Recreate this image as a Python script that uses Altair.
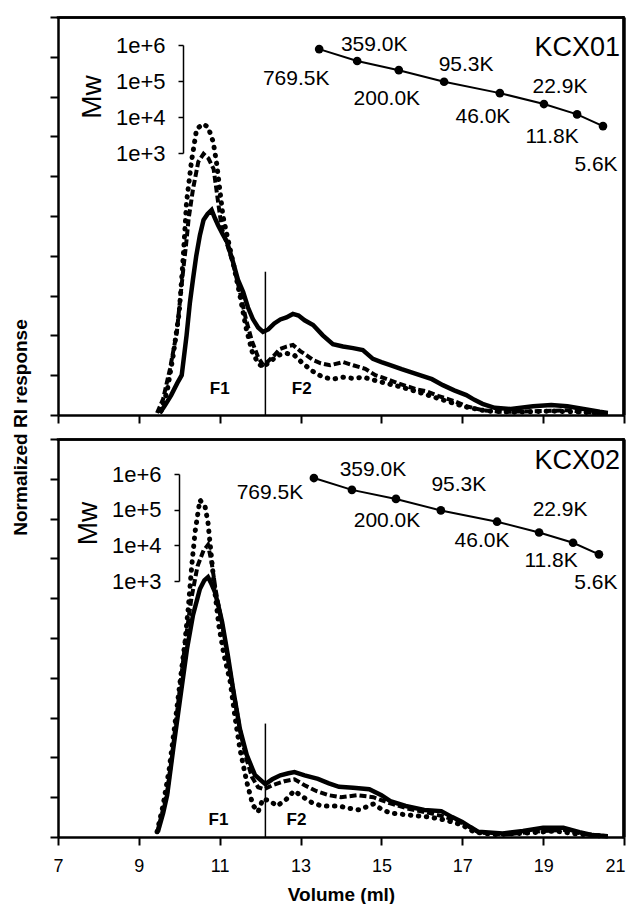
import altair as alt
import pandas as pd

FONT = "Liberation Sans"

# ---------------- data ----------------
X_TICKS = [7, 9, 11, 13, 15, 17, 19, 21]
Y_TICKS = [0, 1, 2, 3, 4, 5, 6, 7, 8, 9, 10]
MW_TICKS = [1e3, 1e4, 1e5, 1e6]

CAL_MW = [769500, 359000, 200000, 95300, 46000, 22900, 11800, 5600]
CAL_LABELS = ["769.5K", "359.0K", "200.0K", "95.3K", "46.0K", "22.9K", "11.8K", "5.6K"]
CAL_VOL_KCX01 = [13.46, 14.40, 15.43, 16.55, 17.93, 19.02, 19.84, 20.48]
CAL_VOL_KCX02 = [13.33, 14.27, 15.36, 16.47, 17.86, 18.90, 19.74, 20.38]

# KCX01 curves (volume, normalized RI)
K1_SOLID_X = [9.52, 9.65, 9.8, 9.95, 10.06, 10.18, 10.26, 10.34, 10.42, 10.51, 10.6, 10.7, 10.8, 10.88,
              10.96, 11.07, 11.18, 11.33, 11.45, 11.58, 11.7, 11.82, 11.95, 12.07, 12.2, 12.35, 12.5,
              12.65, 12.81, 12.95, 13.1, 13.31, 13.55, 13.8, 14.05, 14.3, 14.54, 14.79, 15.0, 15.2,
              15.5, 15.95, 16.25, 16.52, 16.8, 17.1, 17.3, 17.5, 17.8, 18.2, 18.75, 19.2, 19.6, 20.0,
              20.4, 20.6]
K1_SOLID_Y = [0.05, 0.25, 0.5, 0.8, 1.0, 2.0, 2.8, 3.42, 4.0, 4.52, 4.9, 5.05, 5.15, 4.95,
              4.77, 4.55, 4.35, 3.84, 3.4, 3.09, 2.7, 2.41, 2.2, 2.09, 2.15, 2.3, 2.4,
              2.45, 2.54, 2.5, 2.38, 2.26, 2.0, 1.78, 1.72, 1.68, 1.63, 1.41, 1.33, 1.26,
              1.15, 1.0, 0.9, 0.75, 0.62, 0.5, 0.38, 0.28, 0.18, 0.15, 0.22, 0.25, 0.22, 0.15,
              0.08, 0.05]
K1_DASH_X = [9.45, 9.6, 9.77, 9.94, 10.02, 10.1, 10.17, 10.23, 10.34, 10.47, 10.6, 10.72, 10.85, 10.96,
             11.05, 11.18, 11.33, 11.5, 11.65, 11.8, 11.95, 12.07, 12.2, 12.35, 12.49, 12.65, 12.81,
             13.0, 13.15, 13.31, 13.5, 13.73, 14.05, 14.3, 14.6, 14.85, 15.0, 15.4, 15.85, 16.1, 16.4,
             16.8, 17.1, 17.5, 18.0, 19.0, 19.6, 20.2, 20.6]
K1_DASH_Y = [0.05, 0.4, 1.16, 2.09, 2.9, 3.67, 4.3, 4.92, 5.68, 6.36, 6.56, 6.45, 6.18, 5.35,
             4.7, 4.3, 3.8, 3.1, 2.4, 1.85, 1.45, 1.26, 1.35, 1.5, 1.66, 1.72, 1.76,
             1.6, 1.5, 1.38, 1.3, 1.25, 1.33, 1.25, 1.16, 1.0, 0.95, 0.8, 0.65, 0.6, 0.48,
             0.35, 0.22, 0.12, 0.08, 0.1, 0.12, 0.06, 0.03]
K1_DOT_X = [9.55, 9.7, 9.85, 10.0, 10.1, 10.18, 10.3, 10.43, 10.59, 10.71, 10.84, 10.93, 11.0, 11.08,
            11.18, 11.33, 11.5, 11.65, 11.8, 11.95, 12.07, 12.25, 12.45, 12.65, 12.85, 13.05, 13.3,
            13.55, 13.8, 14.05, 14.3, 14.55, 14.8, 15.1, 15.5, 15.9, 16.3, 16.7, 17.1, 17.6, 18.3,
            19.2, 19.8, 20.5]
K1_DOT_Y = [0.1, 0.6, 1.5, 2.6, 4.0, 5.35, 6.36, 7.19, 7.31, 7.24, 6.86, 6.28, 5.68, 5.0,
            4.52, 3.84, 3.0, 2.2, 1.6, 1.3, 1.2, 1.35, 1.5, 1.55, 1.5, 1.3, 1.1,
            0.95, 0.9, 0.95, 0.92, 0.95, 0.88, 0.8, 0.7, 0.58, 0.45, 0.32, 0.2, 0.1, 0.07,
            0.1, 0.08, 0.04]

# KCX02 curves
K2_SOLID_X = [9.47, 9.6, 9.7, 9.85, 10.02, 10.19, 10.34, 10.51, 10.62, 10.71, 10.8, 10.88, 10.97, 11.06,
              11.2, 11.33, 11.5, 11.67, 11.87, 12.07, 12.13, 12.3, 12.5, 12.7, 12.85, 13.1, 13.43, 13.7,
              13.95, 14.3, 14.7, 15.0, 15.22, 15.6, 16.06, 16.48, 16.75, 17.0, 17.2, 17.4, 18.0, 18.5,
              19.0, 19.5, 19.9, 20.2, 20.6]
K2_SOLID_Y = [0.13, 0.6, 1.05, 2.21, 3.47, 4.72, 5.58, 6.23, 6.45, 6.53, 6.35, 6.16, 5.8, 5.4,
              4.57, 3.72, 2.71, 2.06, 1.56, 1.38, 1.33, 1.45, 1.55, 1.6, 1.63, 1.55, 1.46, 1.35,
              1.26, 1.24, 1.2, 1.05, 0.9, 0.78, 0.68, 0.65, 0.5, 0.38, 0.25, 0.13, 0.09, 0.15,
              0.23, 0.23, 0.12, 0.05, 0.02]
K2_DASH_X = [9.45, 9.7, 9.85, 10.0, 10.15, 10.3, 10.45, 10.6, 10.71, 10.8, 10.9, 11.05, 11.2, 11.35,
             11.5, 11.65, 11.8, 11.95, 12.1, 12.3, 12.6, 12.85, 13.1, 13.4, 13.7, 14.0, 14.4, 14.8,
             15.2, 15.7, 16.2, 16.6, 17.0, 17.4, 18.0, 19.0, 19.5, 20.0, 20.6]
K2_DASH_Y = [0.1, 1.1, 2.3, 3.6, 4.9, 6.0, 6.8, 7.2, 7.34, 6.9, 6.2, 5.4, 4.5, 3.6,
             2.7, 2.0, 1.5, 1.25, 1.2, 1.3, 1.4, 1.45, 1.3, 1.15, 1.05, 1.0, 1.05, 1.0,
             0.85, 0.7, 0.6, 0.5, 0.35, 0.12, 0.06, 0.15, 0.18, 0.08, 0.02]
K2_DOT_X = [9.45, 9.6, 9.75, 9.9, 10.02, 10.14, 10.22, 10.31, 10.39, 10.51, 10.64, 10.71, 10.8, 10.88,
            10.98, 11.1, 11.26, 11.38, 11.5, 11.67, 11.82, 11.95, 12.07, 12.25, 12.42, 12.65, 12.84,
            13.1, 13.3, 13.53, 13.95, 14.2, 14.45, 14.8, 15.0, 15.22, 15.7, 16.2, 16.6, 17.0, 17.3,
            17.8, 18.6, 19.3, 19.8, 20.5]
K2_DOT_Y = [0.13, 0.8, 1.7, 2.9, 3.9, 4.9, 5.73, 6.83, 7.66, 8.47, 8.29, 7.9, 6.98, 6.16,
            5.3, 4.6, 3.9, 3.0, 2.21, 1.38, 0.8, 0.63, 0.96, 0.9, 0.78, 0.95, 1.16,
            0.98, 0.85, 0.78, 0.78, 0.72, 0.68, 0.83, 0.7, 0.6, 0.55, 0.5, 0.42, 0.3, 0.12,
            0.06, 0.1, 0.15, 0.08, 0.02]

FRACTIONS = ["F1", "F2"]
FRAC_X_KCX01 = [11.0, 13.03]
FRAC_X_KCX02 = [10.97, 12.9]
FRAC_Y_KCX01 = [0.65, 0.65]
FRAC_Y_KCX02 = [0.43, 0.43]
DIVIDER_X = [12.13, 12.13]
DIVIDER_TOP = [3.6, 2.85]
PANEL_NAMES = ["KCX01", "KCX02"]
NAME_X = [20.9, 20.9]
NAME_Y = [9.22, 9.45]
# top and right edges of the axis box (data units)
FRAME_X0 = [7, 20.985]
FRAME_X1 = [20.985, 20.985]
FRAME_Y0 = [9.985, 0]
FRAME_Y1 = [9.985, 9.985]
FRAME_X = [7, 21]
FRAME_Y = [0, 10]

# ---------------- styles ----------------
LABEL_OFFSETS_KCX01 = [(-23, 30), (17, -16), (-12, 29), (22, -17), (-17, 24), (16, -17), (-25, 23), (-7, 39)]
LABEL_OFFSETS_KCX02 = [(-44, 15), (21, -20), (-9, 22), (18, -25), (-15, 19), (21, -22), (-22, 18), (-3, 29)]

W, H = 566, 398
XSCALE = alt.Scale(domain=[7, 21], nice=False, zero=False)
YSCALE = alt.Scale(domain=[0, 10], nice=False, zero=False)


def curve_df(xs, ys):
    return pd.DataFrame({"vol": xs, "ri": ys})


def panel(idx, solid, dash, dot, cal_vol, offsets, frac_x, frac_y, mw_range, mw_offset, mw_title_xy, bottom):
    if bottom:
        x_axis = alt.Axis(orient="bottom", values=X_TICKS, labels=True, title="Volume (ml)", labelFontSize=18,
                          labelPadding=12, titleFontSize=19, titleFontWeight="bold", titlePadding=10,
                          format="d", labelFlush=False,
                          labelAlign={"condition": {"test": "datum.value == 21", "value": "right"},
                                      "value": "center"},
                          labelOffset={"condition": {"test": "datum.value == 21", "value": 1},
                                       "value": 0})
    else:
        x_axis = alt.Axis(orient="bottom", values=X_TICKS, labels=False, title=None)
    if idx == 0:
        y_axis = alt.Axis(values=Y_TICKS, labels=False, title="Normalized RI response",
                          titleX=-38, titleY=410, titleFontSize=19, titleFontWeight="bold",
                          titleAlign="center", titleBaseline="middle", titleAngle=-90)
    else:
        y_axis = alt.Axis(values=Y_TICKS, labels=False, title=None)

    X = alt.X("vol:Q", scale=XSCALE, axis=x_axis)
    XN = alt.X("vol:Q", scale=XSCALE, axis=None)
    Y = alt.Y("ri:Q", scale=YSCALE, axis=y_axis)

    base_solid = alt.Chart(curve_df(*solid)).mark_line(color="black", strokeWidth=4.5).encode(x=X, y=Y)
    l_dash = alt.Chart(curve_df(*dash)).mark_line(color="black", strokeWidth=4, strokeDash=[7, 3]).encode(x=X, y=Y)
    l_dot = alt.Chart(curve_df(*dot)).mark_line(color="black", strokeWidth=5, strokeDash=[0.5, 7.5],
                                                strokeCap="round").encode(x=X, y=Y)
    div = alt.Chart(pd.DataFrame({"vol": [DIVIDER_X[idx]], "y0": [0], "y1": [DIVIDER_TOP[idx]]})).mark_rule(
        color="black", strokeWidth=1.5).encode(
        x=X, y=alt.Y("y0:Q", scale=YSCALE, axis=y_axis), y2="y1:Q")
    edges = alt.Chart(pd.DataFrame({"vol": FRAME_X0, "v2": FRAME_X1, "y0": FRAME_Y0, "y1": FRAME_Y1})).mark_rule(
        color="black", strokeWidth=2.5, strokeCap="square").encode(
        x=X, x2="v2:Q", y=alt.Y("y0:Q", scale=YSCALE, axis=y_axis), y2="y1:Q")
    frac = alt.Chart(pd.DataFrame({"vol": frac_x, "ri": frac_y, "t": FRACTIONS})).mark_text(
        font=FONT, fontSize=17, fontWeight="bold", color="black", baseline="middle").encode(
        x=X, y=Y, text="t:N")
    name = alt.Chart(pd.DataFrame({"vol": [NAME_X[idx]], "ri": [NAME_Y[idx]], "t": [PANEL_NAMES[idx]]})).mark_text(
        font=FONT, fontSize=27, color="black", align="right", baseline="middle").encode(
        x=X, y=Y, text="t:N")
    curves = alt.layer(base_solid, l_dash, l_dot, div, edges, frac, name)

    mw_scale = alt.Scale(type="log", domain=[1e3, 1e6], range=mw_range, nice=False)
    cal = pd.DataFrame({"vol": cal_vol, "mw": CAL_MW, "label": CAL_LABELS})
    mw_axis = alt.Axis(orient="left", offset=mw_offset, values=MW_TICKS,
                       labelExpr="'1e+' + round(log(datum.value) / LN10)",
                       labelFontSize=22, labelPadding=13, tickSize=5, tickWidth=1.5,
                       domainWidth=1.5, title="Mw", titleFontSize=28, titleFontWeight="normal",
                       titleX=mw_title_xy[0], titleY=mw_title_xy[1], titleAngle=-90,
                       titleAlign="center", titleBaseline="middle")
    MY = alt.Y("mw:Q", scale=mw_scale, axis=mw_axis)
    cal_line = alt.Chart(cal).mark_line(color="black", strokeWidth=2).encode(x=XN, y=MY)
    cal_pts = alt.Chart(cal).mark_circle(color="black", size=75, opacity=1).encode(x=XN, y=MY)
    lbls = []
    for lab, (dx, dy) in zip(CAL_LABELS, offsets):
        lbls.append(
            alt.Chart(cal).transform_filter(alt.datum.label == lab).mark_text(
                font=FONT, fontSize=21, color="black", dx=dx, dy=dy, baseline="middle").encode(
                x=XN, y=MY, text="label:N")
        )
    mw_group = alt.layer(cal_line, cal_pts, *lbls)

    frame = alt.Chart(pd.DataFrame({"vol": FRAME_X, "ri": FRAME_Y})).mark_point(opacity=0).encode(
        x=alt.X("vol:Q", scale=XSCALE,
                axis=alt.Axis(orient="top", labels=False, ticks=False, title=None,
                              domainWidth=2.5, domainColor="black")),
        y=alt.Y("ri:Q", scale=YSCALE,
                axis=alt.Axis(orient="right", labels=False, ticks=False, title=None,
                              domainWidth=2.5, domainColor="black")))

    return alt.layer(curves, mw_group, frame).resolve_scale(y="independent").resolve_axis(
        x="independent", y="independent").properties(width=W, height=H)


top = panel(0, (K1_SOLID_X, K1_SOLID_Y), (K1_DASH_X, K1_DASH_Y), (K1_DOT_X, K1_DOT_Y),
            CAL_VOL_KCX01, LABEL_OFFSETS_KCX01, FRAC_X_KCX01, FRAC_Y_KCX01,
            [136, 28], -125, (-91, 79.5), False)
bottom = panel(1, (K2_SOLID_X, K2_SOLID_Y), (K2_DASH_X, K2_DASH_Y), (K2_DOT_X, K2_DOT_Y),
               CAL_VOL_KCX02, LABEL_OFFSETS_KCX02, FRAC_X_KCX02, FRAC_Y_KCX02,
               [142, 35], -121, (-91, 84), True)

chart = alt.vconcat(top, bottom, spacing=24, bounds="flush").properties(
    padding={"left": 3, "top": 6, "right": 0, "bottom": 0}
).configure_view(
    stroke=None
).configure_axis(
    domainColor="black", domainWidth=2.5, tickColor="black", tickWidth=2, tickSize=8,
    labelColor="black", titleColor="black", labelFont=FONT, titleFont=FONT, grid=False
)

chart.save("out.html", embed_options={"renderer": "svg", "actions": False})
